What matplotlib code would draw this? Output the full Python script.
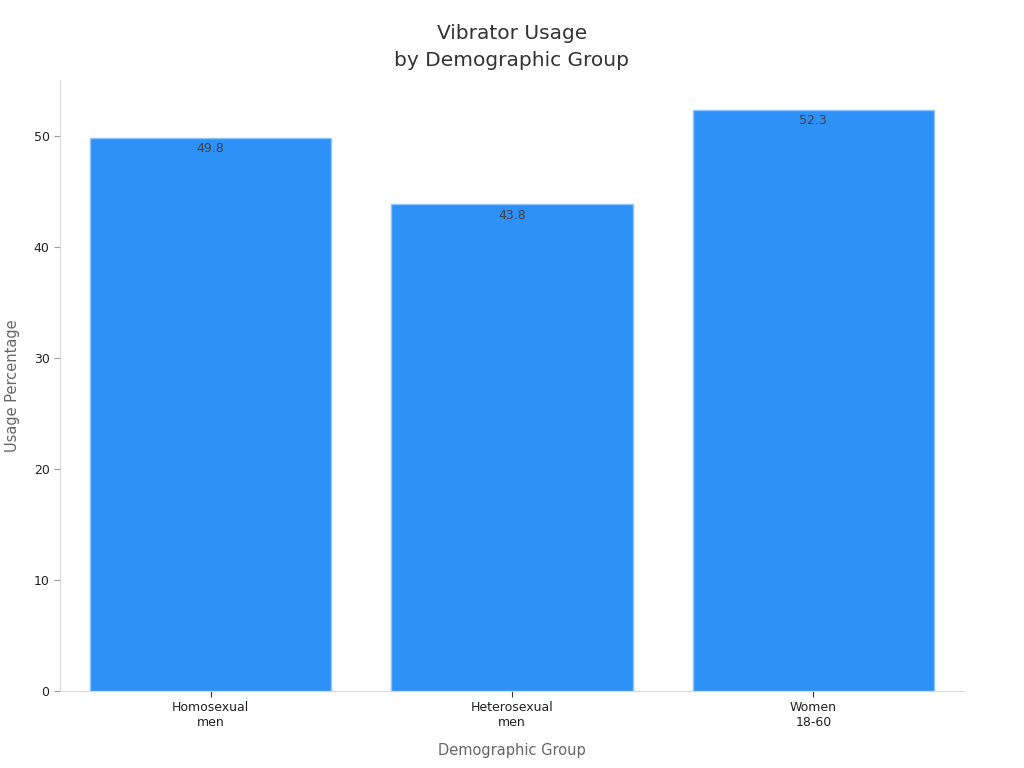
import matplotlib.pyplot as plt

groups = ["Homosexual\nmen", "Heterosexual\nmen", "Women\n18-60"]
usage = [49.8, 43.8, 52.3]

fig = plt.figure(figsize=(10.24, 7.68), dpi=100)
ax = fig.add_axes([0.0586, 0.1003, 0.8828, 0.7955])

x = range(len(groups))
bars = ax.bar(x, usage, width=0.8, color="#2e91f8", edgecolor="#8cc4fb", linewidth=1)

for xi, v in zip(x, usage):
    ax.text(xi, v - 0.4, f"{v}", ha="center", va="top", fontsize=9, color="#404040")

ax.set_xlim(-0.5, 2.5)
ax.set_ylim(0, 55)
ax.set_xticks(list(x))
ax.set_xticklabels(groups, fontsize=9, color="#222222")
ax.set_yticks([0, 10, 20, 30, 40, 50])
ax.tick_params(axis="y", labelsize=9, colors="#222222", length=4, color="#999999")
ax.tick_params(axis="x", length=4, color="#333333")

for s in ["top", "right"]:
    ax.spines[s].set_visible(False)
for s in ["left", "bottom"]:
    ax.spines[s].set_color("#d9d9d9")

ax.set_xlabel("Demographic Group", fontsize=10.5, color="#666666", labelpad=10)
ax.set_ylabel("Usage Percentage", fontsize=10.5, color="#666666", labelpad=10)
ax.set_title("Vibrator Usage\nby Demographic Group", fontsize=14.5, color="#333333",
             pad=10, linespacing=1.55)

fig.savefig("out.png", dpi=100)
